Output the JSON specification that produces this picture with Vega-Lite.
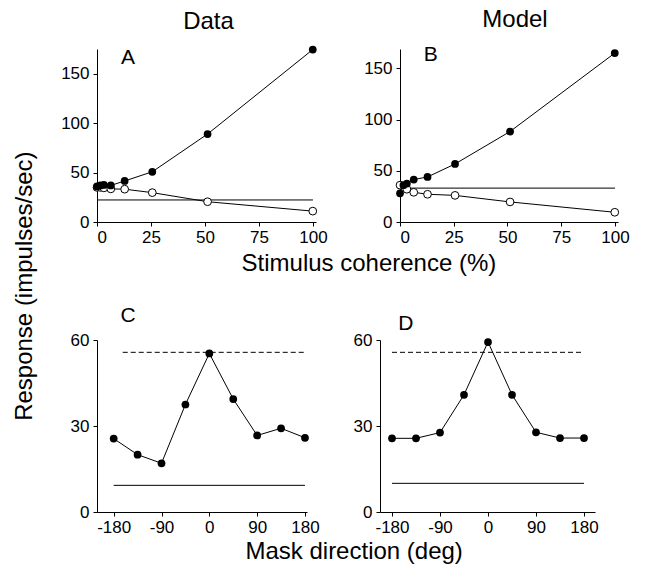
{
  "$schema": "https://vega.github.io/schema/vega-lite/v6.json",
  "padding": {"left": 12, "top": 8, "right": 5, "bottom": 5},
  "background": "white",
  "bounds": "flush",
  "spacing": 291,
  "title": {"text": "Response (impulses/sec)", "orient": "left", "anchor": "middle", "fontSize": 24, "fontWeight": "normal", "offset": 24},
  "config": {
    "view": {"stroke": null},
    "font": "Liberation Sans",
    "title": {"font": "Liberation Sans", "color": "black", "fontWeight": "normal"},
    "axis": {"domainColor": "black", "tickColor": "black", "labelColor": "black", "labelFontSize": 17, "labelFont": "Liberation Sans", "tickSize": 4, "grid": false, "domainWidth": 1, "tickWidth": 1, "labelPadding": 4, "title": null},
    "axisX": {"labelPadding": 3}
  },
  "datasets": {
    "coh": [
      {"panel": "A", "series": "base", "x": 0, "y": 22.3},
      {"panel": "A", "series": "base", "x": 100, "y": 22.3},
      {"panel": "A", "series": "pref", "x": 0, "y": 36},
      {"panel": "A", "series": "pref", "x": 1.6, "y": 37},
      {"panel": "A", "series": "pref", "x": 3.2, "y": 37.5},
      {"panel": "A", "series": "pref", "x": 6.4, "y": 37},
      {"panel": "A", "series": "pref", "x": 12.8, "y": 41.5},
      {"panel": "A", "series": "pref", "x": 25.6, "y": 50.8},
      {"panel": "A", "series": "pref", "x": 51.2, "y": 89},
      {"panel": "A", "series": "pref", "x": 99.9, "y": 174.4},
      {"panel": "A", "series": "null", "x": 0, "y": 35},
      {"panel": "A", "series": "null", "x": 1.6, "y": 35},
      {"panel": "A", "series": "null", "x": 3.2, "y": 34.5},
      {"panel": "A", "series": "null", "x": 6.4, "y": 33.5},
      {"panel": "A", "series": "null", "x": 12.8, "y": 33.2},
      {"panel": "A", "series": "null", "x": 25.6, "y": 29.7},
      {"panel": "A", "series": "null", "x": 51.2, "y": 20.5},
      {"panel": "A", "series": "null", "x": 99.9, "y": 11},
      {"panel": "B", "series": "base", "x": 0, "y": 33.1},
      {"panel": "B", "series": "base", "x": 100, "y": 33.1},
      {"panel": "B", "series": "pref", "x": 0, "y": 28},
      {"panel": "B", "series": "pref", "x": 1.6, "y": 36},
      {"panel": "B", "series": "pref", "x": 3.2, "y": 37.5},
      {"panel": "B", "series": "pref", "x": 6.4, "y": 41.5},
      {"panel": "B", "series": "pref", "x": 12.8, "y": 44},
      {"panel": "B", "series": "pref", "x": 25.6, "y": 56.7},
      {"panel": "B", "series": "pref", "x": 51.2, "y": 88.4},
      {"panel": "B", "series": "pref", "x": 99.9, "y": 165},
      {"panel": "B", "series": "null", "x": 0, "y": 36},
      {"panel": "B", "series": "null", "x": 3.2, "y": 32},
      {"panel": "B", "series": "null", "x": 6.4, "y": 29},
      {"panel": "B", "series": "null", "x": 12.8, "y": 27.1},
      {"panel": "B", "series": "null", "x": 25.6, "y": 26},
      {"panel": "B", "series": "null", "x": 51.2, "y": 19.6},
      {"panel": "B", "series": "null", "x": 99.9, "y": 9.5}
    ],
    "mask": [
      {"panel": "C", "series": "base", "x": -180, "y": 9.3},
      {"panel": "C", "series": "base", "x": 180, "y": 9.3},
      {"panel": "C", "series": "max", "x": -163, "y": 55.7},
      {"panel": "C", "series": "max", "x": 180, "y": 55.7},
      {"panel": "C", "series": "resp", "x": -180, "y": 25.6},
      {"panel": "C", "series": "resp", "x": -135, "y": 20},
      {"panel": "C", "series": "resp", "x": -90, "y": 17},
      {"panel": "C", "series": "resp", "x": -45, "y": 37.5},
      {"panel": "C", "series": "resp", "x": 0, "y": 55.3},
      {"panel": "C", "series": "resp", "x": 45, "y": 39.4},
      {"panel": "C", "series": "resp", "x": 90, "y": 26.7},
      {"panel": "C", "series": "resp", "x": 135, "y": 29.2},
      {"panel": "C", "series": "resp", "x": 180, "y": 25.9},
      {"panel": "D", "series": "base", "x": -180, "y": 10},
      {"panel": "D", "series": "base", "x": 180, "y": 10},
      {"panel": "D", "series": "max", "x": -180, "y": 55.7},
      {"panel": "D", "series": "max", "x": 177, "y": 55.7},
      {"panel": "D", "series": "resp", "x": -180, "y": 25.7},
      {"panel": "D", "series": "resp", "x": -135, "y": 25.7},
      {"panel": "D", "series": "resp", "x": -90, "y": 27.7},
      {"panel": "D", "series": "resp", "x": -45, "y": 40.9},
      {"panel": "D", "series": "resp", "x": 0, "y": 59.3},
      {"panel": "D", "series": "resp", "x": 45, "y": 40.9},
      {"panel": "D", "series": "resp", "x": 90, "y": 27.8},
      {"panel": "D", "series": "resp", "x": 135, "y": 25.8},
      {"panel": "D", "series": "resp", "x": 180, "y": 25.8}
    ]
  },
  "vconcat": [
    {
      "hconcat": [
        {
          "width": 219, "height": 173,
          "title": {"text": "Data", "fontSize": 24, "offset": 12, "dx": 2},
          "data": {"name": "coh"},
          "transform": [{"filter": "datum.panel == 'A'"}],
          "encoding": {
            "x": {"field": "x", "type": "quantitative", "scale": {"domain": [0, 101.4], "nice": false, "zero": false}, "axis": {"values": [0, 25, 50, 75, 100]}},
            "y": {"field": "y", "type": "quantitative", "scale": {"domain": [0, 175], "nice": false}, "axis": {"values": [0, 50, 100, 150]}}
          },
          "layer": [
            {"transform": [{"filter": "datum.series == 'base'"}], "mark": {"type": "line", "color": "black", "strokeWidth": 1}},
            {"transform": [{"filter": "datum.series == 'null'"}], "mark": {"type": "line", "color": "black", "strokeWidth": 1}},
            {"transform": [{"filter": "datum.series == 'null'"}], "mark": {"type": "point", "filled": true, "fill": "white", "stroke": "black", "strokeWidth": 1, "size": 60, "opacity": 1}},
            {"transform": [{"filter": "datum.series == 'pref'"}], "mark": {"type": "line", "color": "black", "strokeWidth": 1}},
            {"transform": [{"filter": "datum.series == 'pref'"}], "mark": {"type": "circle", "color": "black", "size": 60, "opacity": 1}},
            {"transform": [{"filter": "datum.series == 'base' && datum.x == 0"}], "mark": {"type": "text", "text": "A", "fontSize": 21, "color": "black", "align": "center", "baseline": "alphabetic"}, "encoding": {"x": {"datum": 14.4}, "y": {"datum": 160}}}
          ]
        },
        {
          "width": 218, "height": 173,
          "title": {"text": "Model", "fontSize": 24, "offset": 12, "dx": 6},
          "data": {"name": "coh"},
          "transform": [{"filter": "datum.panel == 'B'"}],
          "encoding": {
            "x": {"field": "x", "type": "quantitative", "scale": {"domain": [0, 101.4], "nice": false, "zero": false}, "axis": {"values": [0, 25, 50, 75, 100]}},
            "y": {"field": "y", "type": "quantitative", "scale": {"domain": [0, 169], "nice": false}, "axis": {"values": [0, 50, 100, 150]}}
          },
          "layer": [
            {"transform": [{"filter": "datum.series == 'base'"}], "mark": {"type": "line", "color": "black", "strokeWidth": 1}},
            {"transform": [{"filter": "datum.series == 'null'"}], "mark": {"type": "line", "color": "black", "strokeWidth": 1}},
            {"transform": [{"filter": "datum.series == 'null'"}], "mark": {"type": "point", "filled": true, "fill": "white", "stroke": "black", "strokeWidth": 1, "size": 60, "opacity": 1}},
            {"transform": [{"filter": "datum.series == 'pref'"}], "mark": {"type": "line", "color": "black", "strokeWidth": 1}},
            {"transform": [{"filter": "datum.series == 'pref'"}], "mark": {"type": "circle", "color": "black", "size": 60, "opacity": 1}},
            {"transform": [{"filter": "datum.series == 'base' && datum.x == 0"}], "mark": {"type": "text", "text": "B", "fontSize": 21, "color": "black", "align": "center", "baseline": "alphabetic"}, "encoding": {"x": {"datum": 14.3}, "y": {"datum": 157}}}
          ]
        }
      ],
      "spacing": 84,
      "bounds": "flush",
      "title": {"text": "Stimulus coherence (%)", "orient": "bottom", "anchor": "middle", "fontSize": 24, "dx": 24, "offset": 7}
    },
    {
      "hconcat": [
        {
          "width": 210, "height": 172,
          "data": {"name": "mask"},
          "transform": [{"filter": "datum.panel == 'C'"}],
          "encoding": {
            "x": {"field": "x", "type": "quantitative", "scale": {"domain": [-211.4, 183.8], "nice": false, "zero": false}, "axis": {"values": [-180, -90, 0, 90, 180], "labelExpr": "replace(datum.label, '\u2212', '-')"}},
            "y": {"field": "y", "type": "quantitative", "scale": {"domain": [0, 60], "nice": false}, "axis": {"values": [0, 30, 60]}}
          },
          "layer": [
            {"transform": [{"filter": "datum.series == 'base'"}], "mark": {"type": "line", "color": "black", "strokeWidth": 1}},
            {"transform": [{"filter": "datum.series == 'max'"}], "mark": {"type": "line", "color": "black", "strokeWidth": 1, "strokeDash": [5, 3]}},
            {"transform": [{"filter": "datum.series == 'resp'"}], "mark": {"type": "line", "color": "black", "strokeWidth": 1}},
            {"transform": [{"filter": "datum.series == 'resp'"}], "mark": {"type": "circle", "color": "black", "size": 60, "opacity": 1}},
            {"transform": [{"filter": "datum.series == 'base' && datum.x == -180"}], "mark": {"type": "text", "text": "C", "fontSize": 21, "color": "black", "align": "center", "baseline": "alphabetic"}, "encoding": {"x": {"datum": -153}, "y": {"datum": 66.4}}}
          ]
        },
        {
          "width": 215, "height": 172,
          "data": {"name": "mask"},
          "transform": [{"filter": "datum.panel == 'D'"}],
          "encoding": {
            "x": {"field": "x", "type": "quantitative", "scale": {"domain": [-202.5, 200.6], "nice": false, "zero": false}, "axis": {"values": [-180, -90, 0, 90, 180], "labelExpr": "replace(datum.label, '\u2212', '-')"}},
            "y": {"field": "y", "type": "quantitative", "scale": {"domain": [0, 60], "nice": false}, "axis": {"values": [0, 30, 60]}}
          },
          "layer": [
            {"transform": [{"filter": "datum.series == 'base'"}], "mark": {"type": "line", "color": "black", "strokeWidth": 1}},
            {"transform": [{"filter": "datum.series == 'max'"}], "mark": {"type": "line", "color": "black", "strokeWidth": 1, "strokeDash": [5, 3]}},
            {"transform": [{"filter": "datum.series == 'resp'"}], "mark": {"type": "line", "color": "black", "strokeWidth": 1}},
            {"transform": [{"filter": "datum.series == 'resp'"}], "mark": {"type": "circle", "color": "black", "size": 60, "opacity": 1}},
            {"transform": [{"filter": "datum.series == 'base' && datum.x == -180"}], "mark": {"type": "text", "text": "D", "fontSize": 21, "color": "black", "align": "center", "baseline": "alphabetic"}, "encoding": {"x": {"datum": -154}, "y": {"datum": 63.6}}}
          ]
        }
      ],
      "spacing": 73,
      "bounds": "flush",
      "title": {"text": "Mask direction (deg)", "orient": "bottom", "anchor": "middle", "fontSize": 24, "dx": 20, "offset": 5}
    }
  ]
}
